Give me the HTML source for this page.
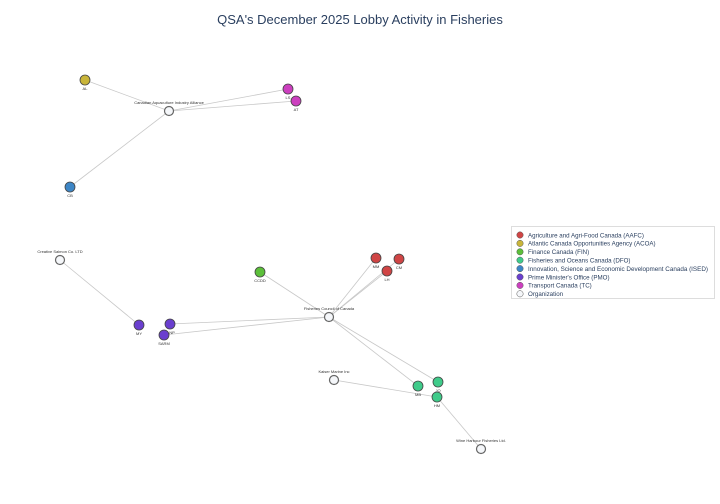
<!DOCTYPE html>
<html><head><meta charset="utf-8"><style>
body{margin:0;background:#fff}
svg{display:block;font-family:"Liberation Sans",sans-serif}
</style></head><body>
<svg width="720" height="504" viewBox="0 0 720 504">
<text x="360" y="24" text-anchor="middle" font-size="13" fill="#2a3f5f">QSA's December 2025 Lobby Activity in Fisheries</text>
<g stroke="#c8c8c8" stroke-width="0.8">
<line x1="169" y1="111" x2="85" y2="80"/><line x1="169" y1="111" x2="288" y2="89"/>
<line x1="169" y1="111" x2="296" y2="101"/><line x1="169" y1="111" x2="70" y2="187"/>
<line x1="60" y1="260" x2="139" y2="325"/>
<line x1="329" y1="317" x2="260" y2="272"/><line x1="329" y1="317" x2="376" y2="258"/>
<line x1="329" y1="317" x2="387" y2="271"/><line x1="329" y1="317" x2="399" y2="259"/>
<line x1="329" y1="317" x2="170" y2="324"/><line x1="329" y1="317" x2="164" y2="335"/>
<line x1="329" y1="317" x2="418" y2="386"/><line x1="329" y1="317" x2="438" y2="382"/>
<line x1="334" y1="380" x2="437" y2="397"/><line x1="437" y1="397" x2="481" y2="449"/>
</g>
<g stroke="#444" stroke-width="0.8">
<circle cx="85" cy="80" r="5" fill="#c9b53a"/>
<circle cx="288" cy="89" r="5" fill="#cc3fbf"/>
<circle cx="296" cy="101" r="5" fill="#cc3fbf"/>
<circle cx="70" cy="187" r="5" fill="#3d86c6"/>
<circle cx="139" cy="325" r="5" fill="#6a3fcf"/>
<circle cx="170" cy="324" r="5" fill="#6a3fcf"/>
<circle cx="164" cy="335" r="5" fill="#6a3fcf"/>
<circle cx="260" cy="272" r="5" fill="#5cbf3a"/>
<circle cx="376" cy="258" r="5" fill="#d04545"/>
<circle cx="399" cy="259" r="5" fill="#d04545"/>
<circle cx="387" cy="271" r="5" fill="#d04545"/>
<circle cx="418" cy="386" r="5" fill="#3fcb8a"/>
<circle cx="438" cy="382" r="5" fill="#3fcb8a"/>
<circle cx="437" cy="397" r="5" fill="#3fcb8a"/>
</g>
<g stroke="#666" stroke-width="1.2" fill="#f5f7fa">
<circle cx="169" cy="111" r="4.5"/><circle cx="60" cy="260" r="4.5"/>
<circle cx="329" cy="317" r="4.5"/><circle cx="334" cy="380" r="4.5"/>
<circle cx="481" cy="449" r="4.5"/>
</g>
<g font-size="4" fill="#333" text-anchor="middle">
<text x="85" y="90">AL</text><text x="288" y="99">LS</text><text x="296" y="111">AT</text>
<text x="70" y="197">CB</text><text x="139" y="335">MY</text><text x="172" y="334">NP</text>
<text x="164" y="345">SARM</text><text x="260" y="282">CCDD</text><text x="376" y="268">MM</text>
<text x="399" y="269">CM</text><text x="387" y="281">LH</text><text x="418" y="396">MB</text>
<text x="438" y="392">JO</text><text x="437" y="407">HM</text>
<text x="169" y="104">Canadian Aquaculture Industry Alliance</text>
<text x="60" y="253">Creative Salmon Co. LTD</text>
<text x="329" y="310">Fisheries Council of Canada</text>
<text x="334" y="373">Kaiser Marine Inc</text>
<text x="481" y="442">Wine Harbour Fisheries Ltd.</text>
</g>
<rect x="511.5" y="226.5" width="203" height="72" fill="#fff" stroke="#ddd"/>
<g font-size="6.2" fill="#2a3f5f" stroke="#555" stroke-width="0.5">
<circle cx="520" cy="235" r="3.2" fill="#d04545"/><circle cx="520" cy="243.4" r="3.2" fill="#c9b53a"/>
<circle cx="520" cy="251.8" r="3.2" fill="#5cbf3a"/><circle cx="520" cy="260.2" r="3.2" fill="#3fcb8a"/>
<circle cx="520" cy="268.6" r="3.2" fill="#3d86c6"/><circle cx="520" cy="277" r="3.2" fill="#6a3fcf"/>
<circle cx="520" cy="285.4" r="3.2" fill="#cc3fbf"/><circle cx="520" cy="293.8" r="3.2" fill="#f5f7fa"/>
<g stroke="none">
<text x="528" y="237.3">Agriculture and Agri-Food Canada (AAFC)</text>
<text x="528" y="245.7">Atlantic Canada Opportunities Agency (ACOA)</text>
<text x="528" y="254.1">Finance Canada (FIN)</text>
<text x="528" y="262.5">Fisheries and Oceans Canada (DFO)</text>
<text x="528" y="270.9" textLength="180" lengthAdjust="spacingAndGlyphs">Innovation, Science and Economic Development Canada (ISED)</text>
<text x="528" y="279.3">Prime Minister's Office (PMO)</text>
<text x="528" y="287.7">Transport Canada (TC)</text>
<text x="528" y="296.1">Organization</text>
</g></g>
</svg>
</body></html>
